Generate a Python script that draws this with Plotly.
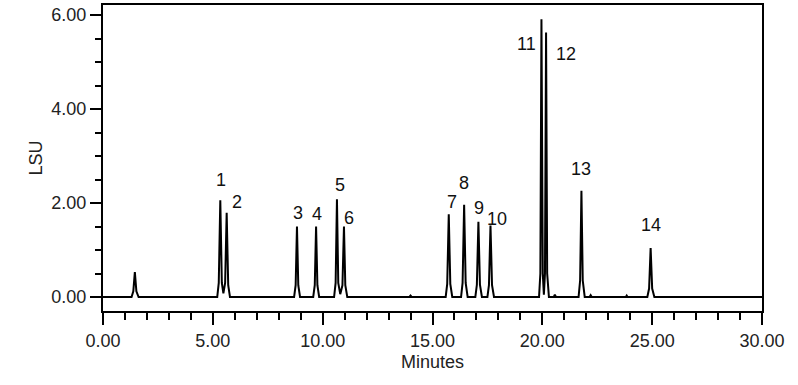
import plotly.graph_objects as go

# Chromatogram trace (minutes, LSU)
minutes = [
    0.00, 1.30, 1.38, 1.45, 1.52, 1.62,
    5.20, 5.27, 5.34, 5.41, 5.48, 5.56, 5.63, 5.70, 5.78,
    8.70, 8.77, 8.83, 8.89, 8.97,
    9.57, 9.64, 9.70, 9.76, 9.84,
    10.52, 10.59, 10.65, 10.71, 10.80, 10.90, 10.97, 11.03, 11.12,
    13.95, 14.00, 14.05,
    15.60, 15.67, 15.74, 15.81, 15.90,
    16.30, 16.37, 16.44, 16.51, 16.60,
    16.95, 17.02, 17.09, 17.16, 17.25,
    17.50, 17.57, 17.64, 17.71, 17.80,
    19.85, 19.91, 19.96, 20.02, 20.07, 20.12, 20.17, 20.22, 20.30,
    20.52, 20.57, 20.62,
    21.65, 21.72, 21.78, 21.84, 21.93,
    22.15, 22.20, 22.25,
    23.80, 23.84, 23.88,
    24.78, 24.86, 24.93, 25.00, 25.10,
    30.00,
]
lsu = [
    0.00, 0.00, 0.12, 0.53, 0.12, 0.00,
    0.00, 0.30, 2.06, 0.30, 0.08, 0.30, 1.79, 0.25, 0.00,
    0.00, 0.25, 1.50, 0.25, 0.00,
    0.00, 0.25, 1.50, 0.25, 0.00,
    0.00, 0.30, 2.08, 0.30, 0.06, 0.25, 1.50, 0.25, 0.00,
    0.00, 0.03, 0.00,
    0.00, 0.28, 1.76, 0.28, 0.00,
    0.00, 0.30, 1.96, 0.30, 0.00,
    0.00, 0.26, 1.60, 0.26, 0.00,
    0.00, 0.25, 1.52, 0.25, 0.00,
    0.00, 0.50, 5.91, 0.50, 0.05, 0.50, 5.63, 0.50, 0.00,
    0.00, 0.05, 0.00,
    0.00, 0.35, 2.26, 0.35, 0.00,
    0.00, 0.04, 0.00,
    0.00, 0.03, 0.00,
    0.00, 0.18, 1.04, 0.18, 0.00,
    0.00,
]

# Peak labels
peak_labels = ["1", "2", "3", "4", "5", "6", "7", "8", "9", "10", "11", "12", "13", "14"]
peak_times = [5.34, 5.63, 8.83, 9.70, 10.65, 10.97, 15.74, 16.44, 17.09, 17.64, 19.96, 20.17, 21.78, 24.93]
peak_heights = [2.06, 1.79, 1.50, 1.50, 2.08, 1.50, 1.76, 1.96, 1.60, 1.52, 5.91, 5.63, 2.26, 1.04]

# label offsets in pixels relative to the apex (style)
label_dx = [1, 10, 1, 1, 3, 5, 3, 0, 1, 7, -15, 20, 0, 0]
label_dy = [20, 11, 14, 13, 14, 9, 12, 22, 14, 7, -25, -22, 22, 23]

fig = go.Figure()
fig.add_trace(go.Scatter(
    x=minutes, y=lsu, mode="lines",
    line=dict(color="black", width=2),
    hoverinfo="skip", showlegend=False,
))

for lab, t, h, dx, dy in zip(peak_labels, peak_times, peak_heights, label_dx, label_dy):
    fig.add_annotation(
        x=t, y=h, text=lab, showarrow=False,
        xshift=dx, yshift=dy,
        font=dict(family="Liberation Sans, Arial, sans-serif", size=18, color="#111"),
    )

font = dict(family="Liberation Sans, Arial, sans-serif", size=18, color="#222")

fig.update_layout(
    width=798, height=385,
    margin=dict(l=103, r=36, t=5, b=74),
    plot_bgcolor="white", paper_bgcolor="white",
    font=font,
    xaxis=dict(
        range=[0, 30], tickmode="linear", tick0=0, dtick=5, tickformat=".2f",
        ticks="outside", ticklen=12, tickwidth=2, tickcolor="black",
        minor=dict(dtick=1, ticks="outside", ticklen=7, tickwidth=2, tickcolor="black"),
        showline=True, linecolor="black", linewidth=2, mirror=True,
        showgrid=False, zeroline=False, automargin=False,
        title=dict(text="Minutes", standoff=6, font=font),
    ),
    yaxis=dict(
        range=[-0.298, 6.213], tickmode="linear", tick0=0, dtick=2, tickformat=".2f",
        ticks="outside", ticklen=11, tickwidth=2, tickcolor="black",
        minor=dict(dtick=0.5, ticks="outside", ticklen=6, tickwidth=2, tickcolor="black"),
        showline=True, linecolor="black", linewidth=2, mirror=True,
        showgrid=False, zeroline=False, automargin=False,
        title=dict(text="LSU", standoff=4, font=font),
    ),
)

fig.write_html(
    "out.html",
    config={"displayModeBar": False},
    post_script="document.body.style.margin='0';document.body.style.overflow='hidden';",
)
